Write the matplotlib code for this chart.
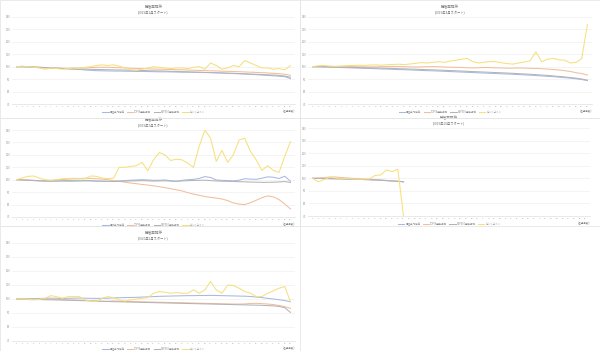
# -*- coding: utf-8 -*-
"""
騰落率推移チャート（5パネル）の再現
"""

import numpy as np
import matplotlib
matplotlib.use("Agg")
import matplotlib.pyplot as plt
from matplotlib.patches import Rectangle

plt.rcParams["font.family"] = ["Noto Sans CJK JP", "DejaVu Sans"]

# ──────────────────────────────────────────────
# データ（スタート時点 = 100）
# ──────────────────────────────────────────────
MONTHS = [str(i) for i in range(1, 50)]
SERIES_NAMES = ["日経平均株価", "TOPIX連動投信", "S&P500連動投信", "ビットコイン"]
TITLE = "騰落率推移"
SUBTITLES = ["(2019年1月スタート)", "(2019年4月スタート)", "(2019年7月スタート)",
             "(2019年10月スタート)", "(2020年1月スタート)"]
Y_TICKS = [70, 80, 90, 100, 110, 120, 130, 140]

# パネル1
p1_blue = [100, 99.9, 99.7, 99.5, 99.3, 99.2, 99.0, 98.9, 98.7, 98.4,
           98.1, 97.8, 97.4, 97.1, 96.8, 96.7, 96.6, 96.5, 96.5, 96.4,
           96.3, 96.2, 96.2, 96.1, 96.0, 95.9, 95.9, 95.8, 95.7, 95.6,
           95.6, 95.5, 95.4, 95.3, 95.2, 95.1, 94.9, 94.7, 94.5, 94.3,
           94.1, 93.8, 93.6, 93.3, 93.0, 92.7, 92.4, 92.0, 90.4]
p1_orange = [100, 100.2, 100.1, 99.8, 99.5, 99.2, 99.0, 98.8, 98.7, 98.8,
             98.9, 99.0, 99.1, 99.3, 99.5, 99.6, 99.5, 99.4, 99.2, 99.0,
             98.8, 98.6, 98.5, 98.3, 98.2, 98.0, 97.9, 97.8, 97.6, 97.5,
             97.3, 97.2, 97.0, 96.9, 96.7, 96.6, 96.4, 96.3, 96.1, 96.0,
             95.8, 95.6, 95.4, 95.2, 95.0, 94.7, 94.4, 94.0, 93.0]
p1_gray = [100, 100.1, 100.0, 99.8, 99.6, 99.3, 99.0, 98.8, 98.5, 98.3,
           98.2, 98.1, 98.0, 97.9, 97.8, 97.7, 97.6, 97.5, 97.4, 97.3,
           97.2, 97.1, 97.0, 96.8, 96.7, 96.6, 96.5, 96.3, 96.2, 96.0,
           95.9, 95.7, 95.6, 95.4, 95.3, 95.1, 95.0, 94.8, 94.7, 94.5,
           94.3, 94.1, 93.9, 93.7, 93.5, 93.3, 93.0, 92.5, 91.5]
p1_yellow = [100, 100.5, 100, 99.5, 99, 98, 99, 98.5, 98, 98.5,
             99, 98.5, 99.5, 100, 101, 101.5, 101, 101.5, 100.5, 99,
             97.5, 97, 98, 99, 100, 99.5, 99, 98.5, 99, 99,
             98.5, 99.5, 100, 98, 103, 101, 98, 99, 101, 100,
             105, 103, 101, 99, 99, 98, 98.5, 97.5, 101]

# パネル2
p2_blue = [100, 99.9, 99.8, 99.6, 99.5, 99.3, 99.2, 99.0, 98.9, 98.7,
           98.6, 98.4, 98.2, 98.1, 97.9, 97.7, 97.6, 97.4, 97.2, 97.0,
           96.8, 96.7, 96.5, 96.3, 96.1, 95.9, 95.7, 95.5, 95.3, 95.1,
           94.9, 94.7, 94.5, 94.3, 94.1, 93.9, 93.7, 93.4, 93.2, 92.9,
           92.6, 92.3, 92.0, 91.6, 91.2, 90.8, 90.3, 89.7, 88.8]
p2_orange = [100, 100.2, 100.3, 100.1, 100.0, 99.9, 100.0, 100.1, 100.0, 99.9,
             99.8, 99.9, 100.0, 100.1, 100.2, 100.1, 100.0, 99.9, 99.8, 99.9,
             100.0, 100.1, 100.0, 99.8, 99.6, 99.5, 99.4, 99.2, 99.0, 99.2,
             99.4, 99.3, 99.1, 99.0, 98.8, 98.9, 99.0, 98.9, 98.7, 98.6,
             98.4, 98.1, 97.8, 97.4, 96.8, 96.2, 95.2, 94.5, 93.3]
p2_gray = [100, 100, 99.9, 99.8, 99.7, 99.6, 99.5, 99.4, 99.3, 99.2,
           99.1, 99.0, 98.9, 98.7, 98.6, 98.4, 98.3, 98.1, 98.0, 97.8,
           97.6, 97.5, 97.3, 97.1, 96.9, 96.7, 96.5, 96.3, 96.1, 95.9,
           95.7, 95.5, 95.3, 95.1, 94.9, 94.7, 94.4, 94.2, 93.9, 93.6,
           93.3, 93.0, 92.6, 92.2, 91.8, 91.3, 90.8, 90.1, 89.2]
p2_yellow = [100, 100.8, 101.0, 100.5, 100.3, 100.6, 100.9, 101.0, 101.2, 101.0,
             101.3, 101.5, 101.2, 101.6, 101.8, 102.0, 101.7, 102.2, 102.7, 103.3,
             103.0, 103.5, 104.0, 103.6, 104.5, 105.2, 106.0, 106.7, 104.0, 103.0,
             103.6, 104.2, 104.0, 103.2, 102.5, 102.1, 103.0, 103.8, 104.8, 112.0,
             104.0, 106.0, 106.7, 105.5, 105.3, 103.0, 103.5, 106.5, 134.1]

# パネル3
p3_blue = [100, 99.8, 99.5, 99.3, 99.0, 98.8, 98.7, 98.9, 99.2, 99.4,
           99.5, 99.6, 99.5, 99.3, 99.0, 98.8, 98.6, 98.7, 99.0, 99.3,
           99.6, 99.8, 100.0, 99.8, 99.5, 99.6, 99.8, 99.2, 98.8, 99.5,
           100.0, 100.3, 101.0, 102.5, 101.8, 99.8, 99.5, 99.3, 99.0, 99.6,
           100.8, 100.5, 100.3, 101.2, 102.3, 102.0, 101.0, 102.8, 98.8]
p3_orange = [100, 100.0, 99.8, 99.5, 99.3, 99.2, 99.5, 99.8, 100.2, 100.5,
             100.8, 101.0, 101.2, 101.0, 100.8, 100.5, 100.0, 99.3, 98.7, 98.0,
             97.3, 96.8, 96.2, 95.7, 95.1, 94.4, 93.6, 92.8, 91.9, 91.0,
             89.6, 88.5, 87.5, 86.5, 85.8, 85.2, 84.5, 83.2, 81.3, 80.4,
             80.0, 81.5, 83.5, 85.5, 87.0, 86.2, 84.0, 80.5, 76.5]
p3_gray = [100, 99.8, 99.6, 99.4, 99.2, 99.1, 99.0, 99.0, 98.9, 98.8,
           98.8, 98.9, 99.0, 99.0, 98.9, 98.8, 98.7, 98.6, 98.7, 98.9,
           99.0, 99.1, 99.2, 99.1, 98.9, 99.0, 99.1, 98.9, 98.7, 99.0,
           99.2, 99.4, 99.5, 99.6, 99.3, 99.0, 98.8, 98.7, 98.6, 98.4,
           98.3, 98.1, 98.0, 97.9, 97.9, 98.0, 98.2, 98.5, 97.8]
p3_yellow = [100, 101.5, 102.7, 103, 101.3, 100, 99.5, 100, 100.8, 101,
             101.2, 101, 100.8, 103, 102.7, 101.3, 100.8, 101.3, 110, 110,
             110.7, 111.2, 114, 107.2, 116, 121.9, 120, 115.5, 116.5, 116,
             113.3, 110, 126.7, 140, 133.3, 114.7, 123.5, 114, 120, 132,
             133.3, 122.7, 116, 107.5, 111.2, 107.5, 105.9, 118.7, 130.7]

# パネル4（17ヶ月目で償還 → 以降データなし）
p4_blue = [100, 99.9, 99.8, 99.7, 99.6, 99.5, 99.4, 99.2, 99.1, 99.0,
           98.8, 98.6, 98.4, 98.1, 97.8, 97.5, 97.2] + [np.nan] * 32
p4_orange = [100, 100.2, 100.5, 101, 101, 100.6, 100.3, 100, 99.7, 99.5,
             99.2, 99.0, 98.6, 98.3, 98.0, 97.6, 97.3] + [np.nan] * 32
p4_gray = [100, 99.9, 99.8, 99.7, 99.6, 99.5, 99.4, 99.3, 99.2, 99.0,
           98.9, 98.7, 98.5, 98.2, 97.9, 97.6, 97.3] + [np.nan] * 32
p4_yellow = [100, 97.3, 99, 100.8, 100.3, 99.6, 100, 99.5, 99.2, 99.4,
             99.5, 102.2, 102.7, 106.7, 105.3, 107.2, 70] + [np.nan] * 32

# パネル5
p5_blue = [100, 100.1, 100.2, 100.3, 100.4, 100.5, 100.6, 100.5, 100.4, 100.5,
           100.6, 100.7, 100.6, 100.5, 100.4, 100.5, 100.6, 100.8, 100.9, 101.0,
           101.1, 101.2, 101.4, 101.5, 101.7, 101.9, 102.0, 102.1, 102.2, 102.3,
           102.4, 102.4, 102.5, 102.5, 102.6, 102.5, 102.4, 102.3, 102.2, 102.1,
           102.0, 101.8, 101.4, 101.0, 100.5, 100.0, 99.5, 98.9, 98.0]
p5_orange = [100, 99.8, 99.6, 99.5, 99.7, 99.9, 100.0, 99.8, 99.6, 99.4,
             99.3, 99.2, 99.0, 98.8, 98.5, 98.3, 98.4, 98.6, 98.5, 98.3,
             98.2, 98.1, 98.0, 97.9, 97.8, 97.7, 97.6, 97.5, 97.4, 97.3,
             97.2, 97.1, 97.0, 96.9, 96.8, 96.7, 96.6, 96.5, 96.4, 96.4,
             96.5, 96.8, 96.9, 96.7, 96.4, 96.0, 95.4, 94.5, 93.3]
p5_gray = [100, 99.9, 99.8, 99.7, 99.6, 99.5, 99.4, 99.3, 99.2, 99.1,
           99.0, 98.9, 98.8, 98.6, 98.5, 98.4, 98.2, 98.1, 98.0, 97.9,
           97.8, 97.7, 97.6, 97.5, 97.4, 97.3, 97.2, 97.1, 97.0, 96.9,
           96.8, 96.7, 96.6, 96.5, 96.4, 96.3, 96.2, 96.1, 96.0, 95.9,
           95.8, 95.7, 95.6, 95.5, 95.3, 95.1, 94.7, 93.8, 90.4]
p5_yellow = [100, 100, 99.8, 99.5, 99.8, 100.5, 102.4, 101.7, 100.5, 101.7,
             101.7, 101.7, 99.3, 98.6, 98.1, 100.5, 101.7, 101, 99.3, 98.6,
             99.3, 100, 100.5, 101, 104.1, 105.3, 104.8, 104.1, 104.6, 104.1,
             104.1, 106.5, 104.1, 106.5, 112.5, 106.5, 104.1, 110, 109.6, 107.7,
             105.3, 104.1, 101.7, 101.7, 104.1, 105.8, 107.7, 108.9, 98.1]

PANELS = [
    [p1_blue, p1_orange, p1_gray, p1_yellow],
    [p2_blue, p2_orange, p2_gray, p2_yellow],
    [p3_blue, p3_orange, p3_gray, p3_yellow],
    [p4_blue, p4_orange, p4_gray, p4_yellow],
    [p5_blue, p5_orange, p5_gray, p5_yellow],
]

COLORS = ["#a6b9e2", "#f3bd9c", "#b4b4b4", "#f6e07c"]

# ──────────────────────────────────────────────
# レイアウト（px 単位 → figure 比率）
# ──────────────────────────────────────────────
W, H = 600, 351
# (左, 上, 右, 下) : 描画領域
AX_BOX = [(12, 17, 295, 104), (308, 17, 592, 104), (12, 130, 295, 217),
          (308, 128, 590, 216), (12, 243, 295, 341)]
# チャート外枠
FRAME_BOX = [(0, 0, 300, 118), (300, 0, 600, 118), (0, 118, 300, 226),
             (300, 118, 600, 226), (0, 226, 300, 351)]

fig = plt.figure(figsize=(W / 100, H / 100), dpi=100)
fig.patch.set_facecolor("white")

for (l, t, r, b) in FRAME_BOX:
    fig.patches.append(Rectangle((l / W, 1 - b / H), (r - l) / W, (b - t) / H,
                                 transform=fig.transFigure, fill=False,
                                 edgecolor="#e6e6e6", linewidth=0.6))

x = np.arange(len(MONTHS))

for k, series in enumerate(PANELS):
    l, t, r, b = AX_BOX[k]
    h = b - t
    ax = fig.add_axes([l / W, 1 - b / H, (r - l) / W, h / H])
    for vals, c, name in zip(series, COLORS, SERIES_NAMES):
        ax.plot(x, vals, color=c, linewidth=0.75, label=name)

    ax.set_xlim(-0.8, len(MONTHS) - 0.2)
    ax.set_ylim(Y_TICKS[0], Y_TICKS[-1])
    ax.set_yticks(Y_TICKS)
    ax.set_yticklabels([str(v) for v in Y_TICKS], fontsize=2.0, color="#999999")
    ax.set_xticks(x)
    ax.set_xticklabels(MONTHS, fontsize=1.6, color="#999999")
    ax.tick_params(length=0, pad=1.2)
    ax.grid(axis="y", color="#f0f0f0", linewidth=0.5)
    ax.set_axisbelow(True)
    for s in ["top", "right", "left"]:
        ax.spines[s].set_visible(False)
    ax.spines["bottom"].set_color("#e0e0e0")
    ax.spines["bottom"].set_linewidth(0.5)

    # タイトル（2行）
    ax.text(0.5, 1 + 10 / h, TITLE, transform=ax.transAxes,
            ha="center", va="center", fontsize=2.6, color="#777777")
    ax.text(0.5, 1 + 5 / h, SUBTITLES[k], transform=ax.transAxes,
            ha="center", va="center", fontsize=2.3, color="#777777")

    # 凡例・横軸ラベル
    ax.legend(loc="upper center", bbox_to_anchor=(0.5, -4.8 / h), ncol=4,
              fontsize=1.8, frameon=False, handlelength=2.5, handletextpad=0.4,
              columnspacing=1.0, borderpad=0.1, labelcolor="#888888")
    ax.text(1.0, -7.5 / h, "(経過月数)", transform=ax.transAxes,
            ha="right", va="center", fontsize=1.9, color="#888888")

fig.savefig("out.png", dpi=100)
